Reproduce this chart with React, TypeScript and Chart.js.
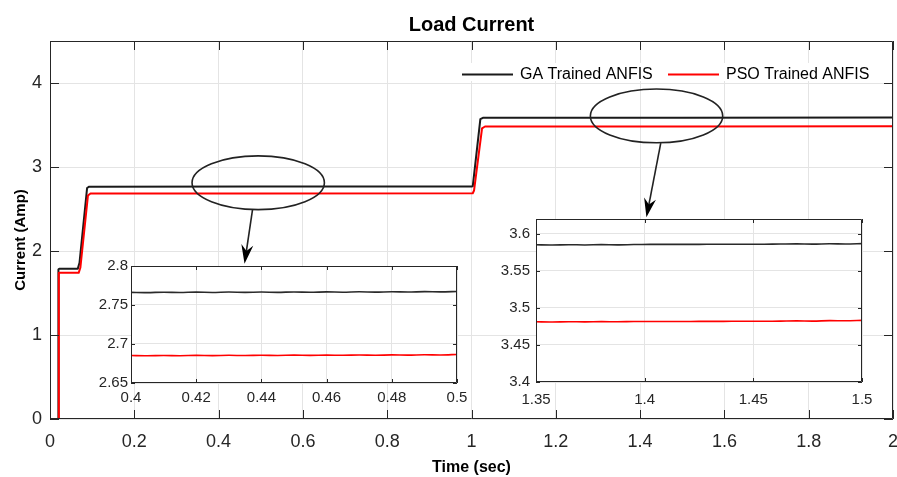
import React, { useEffect, useRef } from "react";
import { Chart, registerables } from "chart.js";

Chart.register(...registerables);

// ---------------- data ----------------
const TITLE = "Load Current";
const X_LABEL = "Time (sec)";
const Y_LABEL = "Current (Amp)";
const GA_LABEL = "GA Trained ANFIS";
const PSO_LABEL = "PSO Trained ANFIS";

const MAIN_X_TICKS = [0, 0.2, 0.4, 0.6, 0.8, 1, 1.2, 1.4, 1.6, 1.8, 2];
const MAIN_Y_TICKS = [0, 1, 2, 3, 4];

const gaTime = [0, 0.019, 0.02, 0.022, 0.066, 0.07, 0.088, 0.093, 0.5, 1.0, 1.003, 1.021, 1.027, 1.5, 2.0];
const gaCurrent = [0, 0, 1.78, 1.79, 1.79, 1.86, 2.75, 2.766, 2.767, 2.768, 2.77, 3.57, 3.585, 3.586, 3.588];

const psoTime = [0, 0.02, 0.021, 0.068, 0.072, 0.09, 0.096, 0.5, 1.003, 1.006, 1.025, 1.032, 1.5, 2.0];
const psoCurrent = [0, 0, 1.74, 1.74, 1.8, 2.66, 2.685, 2.686, 2.688, 2.72, 3.46, 3.482, 3.483, 3.485];

const INSET1_X_TICKS = [0.4, 0.42, 0.44, 0.46, 0.48, 0.5];
const INSET1_Y_TICKS = [2.65, 2.7, 2.75, 2.8];
const inset1Time = [0.4, 0.405, 0.41, 0.415, 0.42, 0.425, 0.43, 0.435, 0.44, 0.445, 0.45, 0.455, 0.46, 0.465, 0.47, 0.475, 0.48, 0.485, 0.49, 0.495, 0.5];
const inset1Ga = [2.7662, 2.7659, 2.7664, 2.766, 2.7665, 2.7661, 2.7666, 2.7662, 2.7666, 2.7662, 2.7667, 2.7663, 2.7668, 2.7664, 2.7669, 2.7665, 2.767, 2.7666, 2.7671, 2.7668, 2.7673];
const inset1Pso = [2.6852, 2.6849, 2.6853, 2.685, 2.6854, 2.6851, 2.6855, 2.6852, 2.6856, 2.6853, 2.6857, 2.6854, 2.6858, 2.6855, 2.6859, 2.6856, 2.686, 2.6857, 2.6862, 2.6859, 2.6866];

const INSET2_X_TICKS = [1.35, 1.4, 1.45, 1.5];
const INSET2_Y_TICKS = [3.4, 3.45, 3.5, 3.55, 3.6];
const inset2Time = [1.35, 1.3575, 1.365, 1.3725, 1.38, 1.3875, 1.395, 1.4025, 1.41, 1.4175, 1.425, 1.4325, 1.44, 1.4475, 1.455, 1.4625, 1.47, 1.4775, 1.485, 1.4925, 1.5];
const inset2Ga = [3.5852, 3.5849, 3.5853, 3.585, 3.5854, 3.5851, 3.5855, 3.5857, 3.5858, 3.5858, 3.5858, 3.5859, 3.5859, 3.5859, 3.586, 3.5862, 3.5864, 3.5861, 3.5866, 3.5863, 3.5868];
const inset2Pso = [3.4813, 3.481, 3.4814, 3.4811, 3.4815, 3.4813, 3.4816, 3.4816, 3.4817, 3.4817, 3.4818, 3.4818, 3.4819, 3.4819, 3.482, 3.4822, 3.4825, 3.4822, 3.4828, 3.4826, 3.4832];

// zoom annotations (data coordinates of the main axes)
const ellipse1 = { cx: 0.494, cy: 2.813, rx: 0.157, ry: 0.32 };
const arrow1 = { x0: 0.4805, y0: 2.493, x1: 0.4615, y1: 1.848 };
const ellipse2 = { cx: 1.439, cy: 3.608, rx: 0.157, ry: 0.32 };
const arrow2 = { x0: 1.449, y0: 3.284, x1: 1.415, y1: 2.401 };

// ---------------- styles ----------------
const FONT = "'Liberation Sans', Arial, Helvetica, sans-serif";
const AXIS_COLOR = "#262626";
const GRID_COLOR = "#e4e4e4";
const GA_COLOR = "#1a1a1a";
const PSO_COLOR = "#ff0000";

const toXY = (xs: number[], ys: number[]) => xs.map((x, i) => ({ x, y: ys[i] }));
const fmt = (v: any) => String(+Number(v).toFixed(3));

function drawFrame(chart: any, tickLen: number) {
  const { ctx, chartArea, scales } = chart;
  const { left, top, right, bottom } = chartArea;
  ctx.save();
  ctx.strokeStyle = AXIS_COLOR;
  ctx.lineWidth = 1;
  ctx.beginPath();
  ctx.rect(Math.round(left) + 0.5, Math.round(top) + 0.5, Math.round(right - left) - 1, Math.round(bottom - top) - 1);
  ctx.stroke();
  ctx.beginPath();
  scales.x.ticks.forEach((t: any) => {
    const px = Math.round(scales.x.getPixelForValue(t.value)) + 0.5;
    ctx.moveTo(px, top);
    ctx.lineTo(px, top + tickLen);
    ctx.moveTo(px, bottom);
    ctx.lineTo(px, bottom - tickLen);
  });
  scales.y.ticks.forEach((t: any) => {
    const py = Math.round(scales.y.getPixelForValue(t.value)) + 0.5;
    ctx.moveTo(left, py);
    ctx.lineTo(left + tickLen, py);
    ctx.moveTo(right, py);
    ctx.lineTo(right - tickLen, py);
  });
  ctx.stroke();
  ctx.restore();
}

function drawArrow(ctx: CanvasRenderingContext2D, x0: number, y0: number, x1: number, y1: number) {
  const dx = x1 - x0;
  const dy = y1 - y0;
  const len = Math.hypot(dx, dy);
  const ux = dx / len;
  const uy = dy / len;
  const px = -uy;
  const py = ux;
  const headL = 19;
  const headW = 6;
  ctx.beginPath();
  ctx.moveTo(x0, y0);
  ctx.lineTo(x1 - ux * 12, y1 - uy * 12);
  ctx.stroke();
  ctx.beginPath();
  ctx.moveTo(x1, y1);
  ctx.lineTo(x1 - ux * headL + px * headW, y1 - uy * headL + py * headW);
  ctx.lineTo(x1 - ux * (headL - 6), y1 - uy * (headL - 6));
  ctx.lineTo(x1 - ux * headL - px * headW, y1 - uy * headL - py * headW);
  ctx.closePath();
  ctx.fill();
}

const mainDecor = {
  id: "mainDecor",
  beforeDraw(chart: any) {
    const { ctx, width, height } = chart;
    ctx.save();
    ctx.fillStyle = "#ffffff";
    ctx.fillRect(0, 0, width, height);
    ctx.restore();
  },
  afterDraw(chart: any) {
    const { ctx, chartArea, scales } = chart;
    const { x, y } = scales;
    drawFrame(chart, 9);

    ctx.save();
    // zoom ellipses and arrows
    ctx.strokeStyle = "#222222";
    ctx.fillStyle = "#000000";
    ctx.lineWidth = 1.6;
    [
      [ellipse1, arrow1],
      [ellipse2, arrow2],
    ].forEach(([e, a]: any) => {
      const cx = x.getPixelForValue(e.cx);
      const cy = y.getPixelForValue(e.cy);
      const rx = x.getPixelForValue(e.cx + e.rx) - cx;
      const ry = cy - y.getPixelForValue(e.cy + e.ry);
      ctx.beginPath();
      ctx.ellipse(cx, cy, rx, ry, 0, 0, Math.PI * 2);
      ctx.stroke();
      ctx.lineWidth = 1.6;
      drawArrow(ctx, x.getPixelForValue(a.x0), y.getPixelForValue(a.y0), x.getPixelForValue(a.x1), y.getPixelForValue(a.y1));
    });

    // legend
    ctx.fillStyle = "#ffffff";
    ctx.fillRect(455, 63, 432, 18);
    ctx.font = `16px ${FONT}`;
    ctx.textBaseline = "middle";
    ctx.textAlign = "left";
    const items = [
      { x: 462, label: chart.data.datasets[0].label, color: GA_COLOR },
      { x: 668, label: chart.data.datasets[1].label, color: PSO_COLOR },
    ];
    items.forEach((it) => {
      ctx.strokeStyle = it.color;
      ctx.lineWidth = 1.8;
      ctx.beginPath();
      ctx.moveTo(it.x, 74.5);
      ctx.lineTo(it.x + 51, 74.5);
      ctx.stroke();
      ctx.fillStyle = "#000000";
      ctx.fillText(it.label, it.x + 58, 75);
    });

    // title
    const midX = (chartArea.left + chartArea.right) / 2;
    ctx.fillStyle = "#000000";
    ctx.textAlign = "center";
    ctx.textBaseline = "alphabetic";
    ctx.font = `bold 20px ${FONT}`;
    ctx.fillText(TITLE, midX, 31);

    // x label
    ctx.font = `bold 16px ${FONT}`;
    ctx.fillText(X_LABEL, midX, 472);

    // y label
    ctx.save();
    ctx.translate(25, 240);
    ctx.rotate(-Math.PI / 2);
    ctx.font = `bold 15px ${FONT}`;
    ctx.fillText(Y_LABEL, 0, 0);
    ctx.restore();

    ctx.restore();
  },
};

const insetDecor = {
  id: "insetDecor",
  beforeDraw(chart: any) {
    const { ctx, chartArea } = chart;
    ctx.save();
    ctx.fillStyle = "#ffffff";
    ctx.fillRect(chartArea.left, chartArea.top, chartArea.right - chartArea.left, chartArea.bottom - chartArea.top);
    ctx.restore();
  },
  afterDraw(chart: any) {
    drawFrame(chart, 4);
  },
};

const noPad = (s: any) => {
  s.paddingLeft = 0;
  s.paddingRight = 0;
  s.paddingTop = 0;
  s.paddingBottom = 0;
};

function makeInset(
  canvas: HTMLCanvasElement,
  xs: number[],
  ga: number[],
  pso: number[],
  xTicks: number[],
  yTicks: number[],
  yMax: number,
  opts: { top: number; right: number; yWidth: number; xHeight: number; yPad: number; xPad: number }
) {
  return new Chart(canvas, {
    type: "line",
    data: {
      datasets: [
        { label: GA_LABEL, data: toXY(xs, ga), borderColor: "#2a2a2a", borderWidth: 1.6, pointRadius: 0, tension: 0.3, order: 1 },
        { label: PSO_LABEL, data: toXY(xs, pso), borderColor: PSO_COLOR, borderWidth: 1.6, pointRadius: 0, tension: 0.3, order: 0 },
      ],
    },
    options: {
      responsive: false,
      animation: false,
      devicePixelRatio: 1,
      events: [],
      layout: { padding: { top: opts.top, right: opts.right, left: 0, bottom: 0 } },
      plugins: { legend: { display: false }, tooltip: { enabled: false }, title: { display: false } },
      scales: {
        x: {
          type: "linear",
          min: xTicks[0],
          max: xTicks[xTicks.length - 1],
          afterBuildTicks: (s: any) => {
            s.ticks = xTicks.map((v) => ({ value: v }));
          },
          afterFit: (s: any) => {
            s.height = opts.xHeight;
            noPad(s);
          },
          grid: { color: GRID_COLOR, drawTicks: false, lineWidth: 1 },
          border: { display: false },
          ticks: { autoSkip: false, maxRotation: 0, padding: opts.xPad, color: AXIS_COLOR, font: { family: FONT, size: 15 }, callback: fmt },
        },
        y: {
          type: "linear",
          min: yTicks[0],
          max: yMax,
          afterBuildTicks: (s: any) => {
            s.ticks = yTicks.map((v) => ({ value: v }));
          },
          afterFit: (s: any) => {
            s.width = opts.yWidth;
            noPad(s);
          },
          grid: { color: GRID_COLOR, drawTicks: false, lineWidth: 1 },
          border: { display: false },
          ticks: { autoSkip: false, padding: opts.yPad, color: AXIS_COLOR, font: { family: FONT, size: 15 }, callback: fmt },
        },
      },
    },
    plugins: [insetDecor],
  } as any);
}

export default function App() {
  const mainRef = useRef<HTMLCanvasElement>(null);
  const inset1Ref = useRef<HTMLCanvasElement>(null);
  const inset2Ref = useRef<HTMLCanvasElement>(null);

  useEffect(() => {
    document.body.style.margin = "0";
    const main = new Chart(mainRef.current!, {
      type: "line",
      data: {
        datasets: [
          { label: GA_LABEL, data: toXY(gaTime, gaCurrent), borderColor: GA_COLOR, borderWidth: 2, pointRadius: 0, tension: 0, borderJoinStyle: "round", order: 1 },
          { label: PSO_LABEL, data: toXY(psoTime, psoCurrent), borderColor: PSO_COLOR, borderWidth: 2, pointRadius: 0, tension: 0, borderJoinStyle: "round", order: 0 },
        ],
      },
      options: {
        responsive: false,
        animation: false,
        devicePixelRatio: 1,
        events: [],
        layout: { padding: { top: 41, right: 4, left: 0, bottom: 0 } },
        plugins: { legend: { display: false }, tooltip: { enabled: false }, title: { display: false } },
        scales: {
          x: {
            type: "linear",
            min: 0,
            max: 2,
            afterBuildTicks: (s: any) => {
              s.ticks = MAIN_X_TICKS.map((v) => ({ value: v }));
            },
            afterFit: (s: any) => {
              s.height = 58;
              noPad(s);
            },
            grid: { color: GRID_COLOR, drawTicks: false, lineWidth: 1 },
            border: { display: false },
            ticks: { autoSkip: false, maxRotation: 0, padding: 12, color: AXIS_COLOR, font: { family: FONT, size: 18 }, callback: fmt },
          },
          y: {
            type: "linear",
            min: 0,
            max: 4.5,
            afterBuildTicks: (s: any) => {
              s.ticks = MAIN_Y_TICKS.map((v) => ({ value: v }));
            },
            afterFit: (s: any) => {
              s.width = 50;
              noPad(s);
            },
            grid: { color: GRID_COLOR, drawTicks: false, lineWidth: 1 },
            border: { display: false },
            ticks: { autoSkip: false, padding: 8, color: AXIS_COLOR, font: { family: FONT, size: 18 }, callback: fmt },
          },
        },
      },
      plugins: [mainDecor],
    } as any);

    const in1 = makeInset(inset1Ref.current!, inset1Time, inset1Ga, inset1Pso, INSET1_X_TICKS, INSET1_Y_TICKS, 2.8, {
      top: 11,
      right: 13,
      yWidth: 41,
      xHeight: 32,
      yPad: 3,
      xPad: 6,
    });
    const in2 = makeInset(inset2Ref.current!, inset2Time, inset2Ga, inset2Pso, INSET2_X_TICKS, INSET2_Y_TICKS, 3.62, {
      top: 11,
      right: 28,
      yWidth: 46,
      xHeight: 31,
      yPad: 6,
      xPad: 9,
    });

    return () => {
      main.destroy();
      in1.destroy();
      in2.destroy();
    };
  }, []);

  return (
    <div style={{ position: "relative", width: 897, height: 477, background: "#fff" }}>
      <canvas ref={mainRef} width={897} height={477} style={{ position: "absolute", left: 0, top: 0 }} />
      <canvas ref={inset1Ref} width={380} height={160} style={{ position: "absolute", left: 90, top: 255 }} />
      <canvas ref={inset2Ref} width={400} height={205} style={{ position: "absolute", left: 490, top: 208 }} />
    </div>
  );
}
